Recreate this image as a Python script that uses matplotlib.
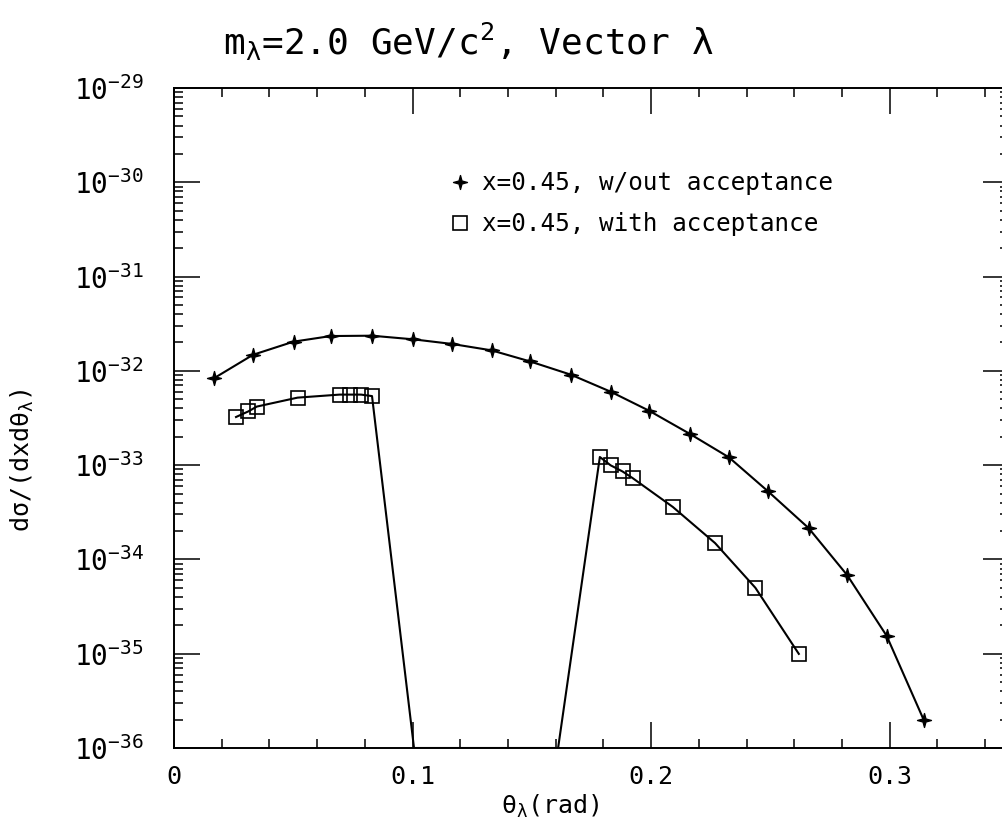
import matplotlib
matplotlib.use("Agg")
import matplotlib.pyplot as plt
from matplotlib.path import Path
from matplotlib.lines import Line2D
from matplotlib.ticker import FixedLocator, LogFormatterMathtext, MultipleLocator, NullFormatter

# valeurs (theta en rad, dsigma en cm2 ...)
theta_sans = [0.0166, 0.0331, 0.0501, 0.0657, 0.0829, 0.1003, 0.1165, 0.1331, 0.1492, 0.1664,
              0.1831, 0.1992, 0.2163, 0.2326, 0.2489, 0.2660, 0.2822, 0.2987, 0.3142]
sig_sans = [8.3e-33, 1.48e-32, 2.04e-32, 2.34e-32, 2.36e-32, 2.16e-32, 1.93e-32, 1.65e-32, 1.26e-32, 9.1e-33,
            6.0e-33, 3.77e-33, 2.14e-33, 1.21e-33, 5.3e-34, 2.15e-34, 6.8e-35, 1.55e-35, 2.0e-36]

# avec acceptance : la courbe tombe sous 1e-36 entre ~0.10 et ~0.16
theta_avec = [0.0260, 0.0312, 0.0347, 0.0518, 0.0694, 0.0739, 0.0784, 0.0830, 0.1006,
              0.1610, 0.1785, 0.1830, 0.1880, 0.1922, 0.2091, 0.2268, 0.2437, 0.2619]
sig_avec = [3.24e-33, 3.72e-33, 4.18e-33, 5.2e-33, 5.6e-33, 5.6e-33, 5.6e-33, 5.4e-33, 1.0e-36,
            1.0e-36, 1.22e-33, 9.96e-34, 8.57e-34, 7.3e-34, 3.6e-34, 1.49e-34, 5.0e-35, 9.96e-36]
hors_cadre = [8, 9]  # points au bord, sans marqueur

xticks = [0, 0.1, 0.2, 0.3]
xticklabels = ['0', '0.1', '0.2', '0.3']
decades = list(range(-36, -28))
label_sans = 'x=0.45, w/out acceptance'
label_avec = 'x=0.45, with acceptance'

plt.rcParams['font.family'] = ['DejaVu Sans Mono', 'DejaVu Sans']
plt.rcParams['mathtext.fontset'] = 'custom'
plt.rcParams['mathtext.rm'] = 'DejaVu Sans Mono'
plt.rcParams['mathtext.it'] = 'DejaVu Sans Mono'
plt.rcParams['mathtext.bf'] = 'DejaVu Sans Mono'

fig = plt.figure(figsize=(10.02, 8.26), dpi=100)
ax = fig.add_axes([174 / 1002, 78 / 826, 835 / 1002, 660 / 826])

etoile = Path.unit_regular_star(4, 0.3)
marques_avec = [i for i in range(len(theta_avec)) if i not in hors_cadre]

ax.plot(theta_sans, sig_sans, '-', color='k', lw=1.5, marker=etoile, ms=10, mfc='k', mec='k')
ax.plot(theta_avec, sig_avec, '-', color='k', lw=1.5, marker='s', ms=9.5, mfc='none', mec='k',
        mew=1.2, markevery=marques_avec)

ax.set_yscale('log')
ax.set_xlim(0, 0.35)
ax.set_ylim(1e-36, 1e-29)

ax.set_xticks(xticks)
ax.set_xticklabels(xticklabels)
ax.xaxis.set_minor_locator(MultipleLocator(0.02))
# graduations seulement dans le cadre
ax.yaxis.set_major_locator(FixedLocator([10.0 ** e for e in decades]))
ax.yaxis.set_major_formatter(LogFormatterMathtext())
ax.yaxis.set_minor_locator(FixedLocator([m * 10.0 ** e for e in decades[:-1] for m in range(2, 10)]))
ax.yaxis.set_minor_formatter(NullFormatter())

ax.tick_params(which='both', direction='in', top=True, right=True, colors='k')
ax.tick_params(which='major', length=19, width=1.1)
ax.tick_params(which='minor', length=6.5, width=1.1)
ax.tick_params(axis='y', which='major', pad=22, labelsize=20)
ax.tick_params(axis='x', which='major', pad=12, labelsize=18)
for s in ax.spines.values():
    s.set_linewidth(1.4)

ax.set_xlabel(r'$\theta_\lambda$(rad)', fontsize=18)
ax.xaxis.set_label_coords(0.451, -0.068)
ax.set_ylabel(r'd$\sigma$/(dxd$\theta_\lambda$)', fontsize=18)
ax.yaxis.set_label_coords(-0.165, 0.436)

poignees = [Line2D([], [], ls='none', marker=etoile, ms=10, mfc='k', mec='k'),
            Line2D([], [], ls='none', marker='s', ms=9.5, mfc='none', mec='k', mew=1.2)]
ax.legend(poignees, [label_sans, label_avec], loc='upper left', bbox_to_anchor=(0.328, 0.874),
          frameon=False, fontsize=17.5, handlelength=1.0, handletextpad=0.4,
          borderpad=0, borderaxespad=0, labelspacing=0.7)

fig.text(468 / 1002, 1 - 42 / 826, r'm$_\lambda$=2.0 GeV/c$^2$, Vector λ',
         ha='center', va='center', fontsize=26)

fig.savefig('out.png', dpi=100, facecolor='white')
